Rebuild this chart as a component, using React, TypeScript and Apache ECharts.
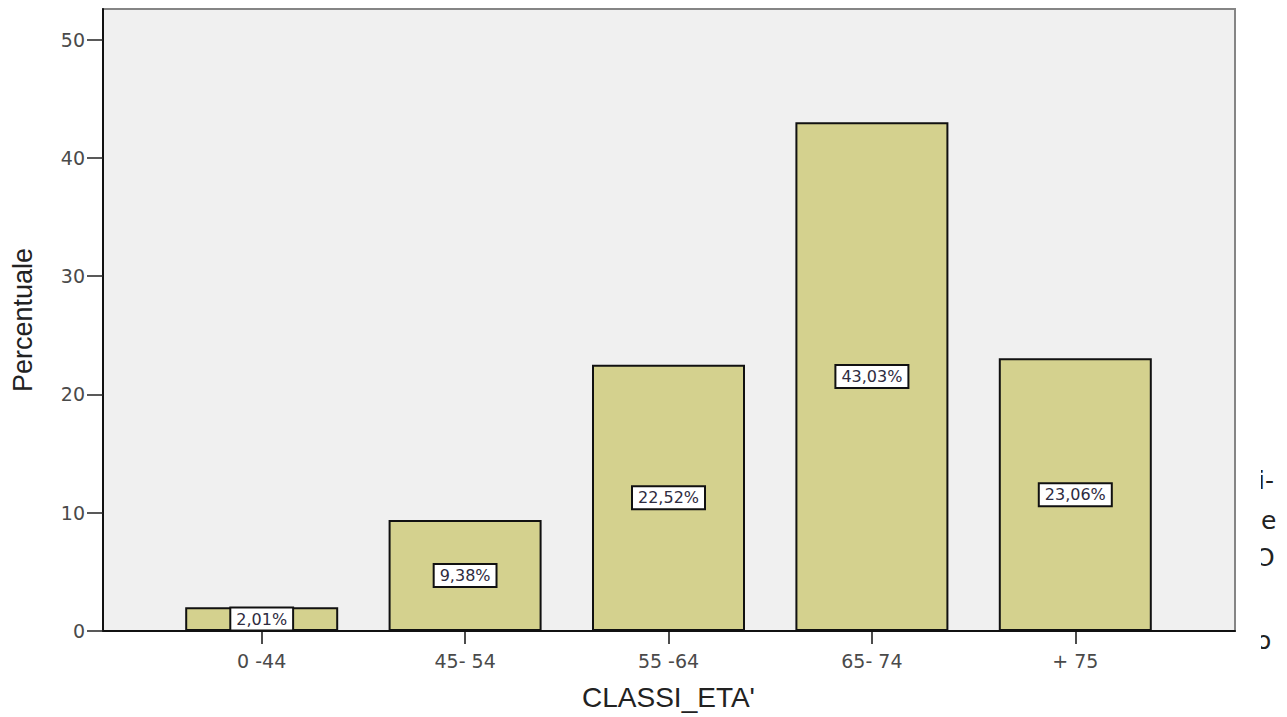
import React, { useEffect, useRef } from "react";
import * as echarts from "echarts";

// Age classes and their share of the sample (percent)
const categories = ["0 -44", "45- 54", "55 -64", "65- 74", "+ 75"];
const percentages = [2.01, 9.38, 22.52, 43.03, 23.06];
const yTicks = [0, 10, 20, 30, 40, 50];
const yMax = 52.6;

// Text fragments from the neighbouring page column on the right edge
const sideTexts = [
  { text: "i-", x: 1258, y: 480 },
  { text: "e", x: 1261, y: 520 },
  { text: "O", x: 1255, y: 557 },
  { text: "o", x: 1256, y: 640 },
];

const fmtPct = (v: number) => v.toFixed(2).replace(".", ",") + "%";

export default function App() {
  const ref = useRef<HTMLDivElement>(null);

  useEffect(() => {
    if (!ref.current) return;
    const chart = echarts.init(ref.current, null, { renderer: "svg" });

    const tickFont = "'DejaVu Sans', sans-serif";
    const nameFont = "'Liberation Sans', Arial, sans-serif";

    chart.setOption({
      animation: false,
      backgroundColor: "#ffffff",
      grid: [
        {
          // plot frame
          left: 103,
          top: 9,
          width: 1132,
          height: 622,
          show: true,
          backgroundColor: "#f0f0f0",
          borderColor: "#858585",
          borderWidth: 2,
        },
        {
          // band area of the bars
          left: 160,
          top: 9,
          width: 1017,
          height: 622,
        },
      ],
      xAxis: [
        {
          gridIndex: 0,
          type: "value",
          min: 0,
          max: 1,
          axisLine: { show: true, lineStyle: { color: "#111", width: 2 } },
          axisTick: { show: false },
          axisLabel: { show: false },
          splitLine: { show: false },
        },
        {
          gridIndex: 1,
          type: "category",
          data: categories,
          axisLine: { show: false },
          axisTick: {
            show: true,
            alignWithLabel: true,
            length: 13,
            lineStyle: { color: "#111", width: 1.5 },
          },
          axisLabel: {
            color: "#4a4a4a",
            fontFamily: tickFont,
            fontSize: 19,
            margin: 20,
          },
          name: "CLASSI_ETA'",
          nameLocation: "middle",
          nameGap: 52,
          nameTextStyle: { color: "#222", fontFamily: nameFont, fontSize: 28 },
        },
      ],
      yAxis: [
        {
          gridIndex: 0,
          type: "value",
          min: 0,
          max: yMax,
          interval: 10,
          axisLine: { show: true, lineStyle: { color: "#111", width: 2 } },
          axisTick: {
            show: true,
            length: 16,
            customValues: yTicks,
            lineStyle: { color: "#222", width: 1.5 },
          },
          axisLabel: {
            customValues: yTicks,
            color: "#4a4a4a",
            fontFamily: tickFont,
            fontSize: 19,
            margin: 18,
          },
          splitLine: { show: false },
          name: "Percentuale",
          nameLocation: "middle",
          nameGap: 67,
          nameTextStyle: { color: "#222", fontFamily: nameFont, fontSize: 27 },
        },
        {
          gridIndex: 1,
          type: "value",
          min: 0,
          max: yMax,
          show: false,
          splitLine: { show: false },
        },
      ],
      series: [
        {
          type: "bar",
          xAxisIndex: 1,
          yAxisIndex: 1,
          data: percentages,
          barWidth: 153,
          itemStyle: {
            color: "#d4d18e",
            borderColor: "#111",
            borderWidth: 2,
          },
          label: {
            show: true,
            position: "inside",
            formatter: (p: any) => fmtPct(p.value),
            color: "#2e2b40",
            fontFamily: tickFont,
            fontSize: 16,
            backgroundColor: "#ffffff",
            borderColor: "#111",
            borderWidth: 2,
            padding: [3, 5, 2, 5],
          },
        },
      ],
      graphic: [
        ...sideTexts.map((t) => ({
          type: "text",
          x: t.x,
          y: t.y,
          z: 10,
          style: {
            text: t.text,
            fill: "#222",
            font: "25px 'DejaVu Sans', sans-serif",
            verticalAlign: "middle",
          },
        })),
        {
          type: "rect",
          z: 11,
          shape: { x: 1238, y: 455, width: 23, height: 210 },
          style: { fill: "#ffffff" },
        },
      ],
    });

    return () => chart.dispose();
  }, []);

  return (
    <div
      ref={ref}
      style={{ position: "fixed", left: 0, top: 0, width: 1287, height: 717 }}
    />
  );
}
